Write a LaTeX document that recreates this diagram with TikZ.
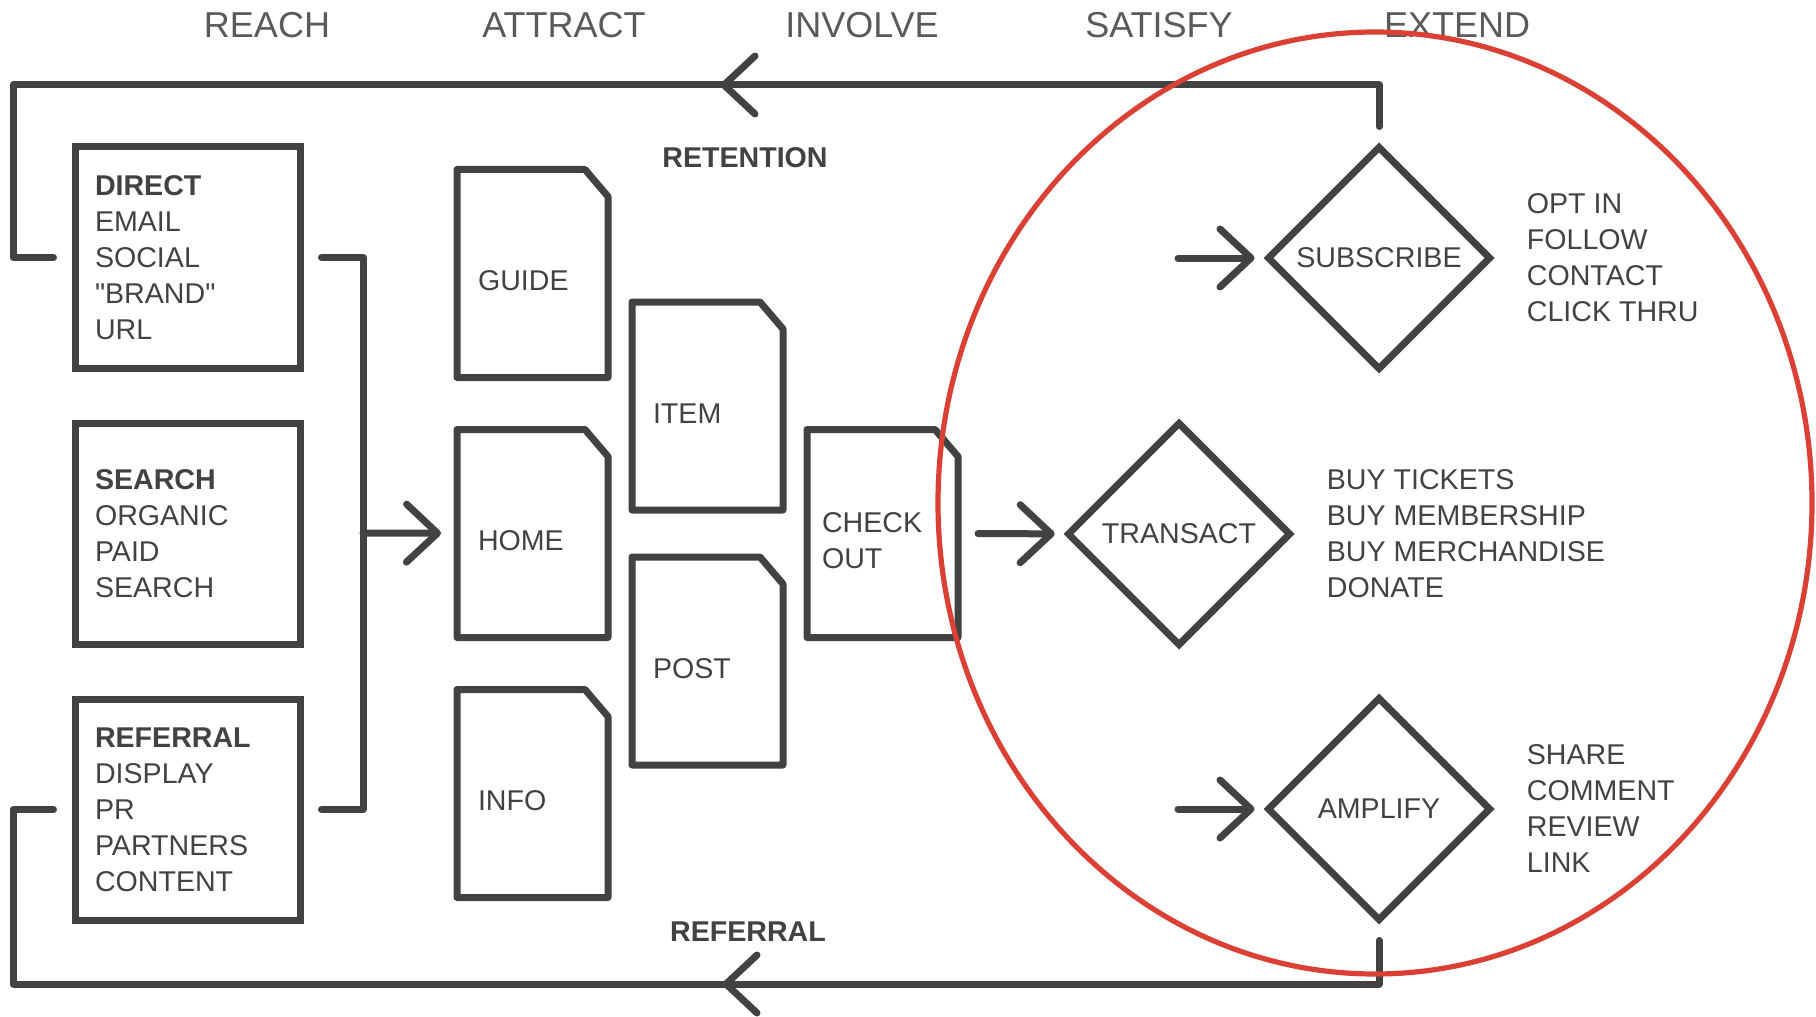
\documentclass[tikz,border=0pt]{standalone}
\usepackage{fontspec}
\setmainfont{Liberation Sans}
\usetikzlibrary{positioning,shapes.geometric,arrows.meta,decorations.markings}
\definecolor{ink}{HTML}{424242}
\definecolor{headgray}{HTML}{5A5A5A}
\definecolor{ringred}{HTML}{DA4034}

\begin{document}
\begin{tikzpicture}[x=0.5pt, y=-0.5pt,
    >={Straight Barb[length=15.5pt,width=29pt,round]},
    every node/.style={text=ink, font=\fontsize{14.3}{18}\selectfont},
    head/.style={text=headgray, font=\fontsize{18}{22}\selectfont},
    lbl/.style={font=\fontsize{14.3}{18}\selectfont\bfseries},
    srcbox/.style={draw=ink, line width=3.5pt, minimum width=112.5pt, minimum height=110.5pt, text width=92.5pt, inner xsep=10pt, align=left},
    page/.style={minimum width=75.5pt, minimum height=104pt, text width=54.5pt, inner xsep=10.5pt, outer sep=0pt, align=left,
        text height=17.4pt},
    goal/.style={diamond, draw=ink, line width=3.5pt, minimum width=112pt, minimum height=112pt, aspect=1, inner sep=0pt},
    actions/.style={align=left, inner sep=0pt},
    wire/.style={draw=ink, line width=3.5pt, line cap=round, line join=round},
    feed/.style={wire, ->, shorten >=4.5pt},
    loopback/.style={wire, shorten <=8pt, shorten >=9pt, postaction={decorate},
        decoration={markings, mark=at position #1 with {\arrow{>}}}}]
    \fill[white] (0,0) rectangle (1816,1016);

    % Stages
    \node[head] (reach) at (267,25) {REACH};
    \node[head] (attract) at (564,25) {ATTRACT};
    \node[head] (involve) at (862,25) {INVOLVE};
    \node[head] (satisfy) at (1159,25) {SATISFY};
    \node[head] (extend) at (1457,25) {EXTEND};

    % Sources
    \node[srcbox] (search) at (187.5,533.5) {\textbf{SEARCH}\\ORGANIC\\PAID\\SEARCH};
    \node[srcbox] (direct) [above=24pt of search] {\textbf{DIRECT}\\EMAIL\\SOCIAL\\\textquotedbl BRAND\textquotedbl\\URL};
    \node[srcbox] (referral) [below=24pt of search] {\textbf{REFERRAL}\\DISPLAY\\PR\\PARTNERS\\CONTENT};

    % Pages
    \node[page] (home) at (532.5,533.5) {HOME};
    \node[page] (guide) [above=26pt of home] {GUIDE};
    \node[page] (info) [below=26pt of home] {INFO};
    \node[page] (item) at (707.5,406) {ITEM};
    \node[page] (post) [below=23.5pt of item] {POST};
    \node[page, text width=60.5pt, inner xsep=7.5pt] (checkout) [right=99.5pt of home] {CHECK\\OUT};
    \foreach \p in {guide,home,info,item,post,checkout}
        \draw[wire] (\p.south west) -- (\p.north west) -- ([xshift=-11.5pt]\p.north east)
            -- ([yshift=-13.5pt]\p.north east) -- (\p.south east) -- cycle;

    % Goals
    \node[goal] (transact) at (1179,534) {TRANSACT};
    \node[goal] (subscribe) at (1379,258) {SUBSCRIBE};
    \node[goal] (amplify) at (1379,809) {AMPLIFY};
    \node[actions] (subacts) [right=16pt of subscribe] {OPT IN\\FOLLOW\\CONTACT\\CLICK THRU};
    \node[actions] (buyacts) [right=16pt of transact] {BUY TICKETS\\BUY MEMBERSHIP\\BUY MERCHANDISE\\DONATE};
    \node[actions] (ampacts) [right=16pt of amplify] {SHARE\\COMMENT\\REVIEW\\LINK};

    \node[lbl] (retention) at (745,158) {RETENTION};
    \node[lbl] (reflabel) at (748,932) {REFERRAL};

    \coordinate (brk) at (363,533);
    \coordinate (rtop) at (13,85);
    \coordinate (rbot) at (13,984);
    \coordinate (insub) at (1178,258);
    \coordinate (inamp) at (1178,809);

    % Edges
    \draw[wire, shorten <=9pt, shorten >=9pt] (direct.east) -| (brk) |- (referral.east);
    \draw[feed, shorten >=8pt] (brk) -- (home);
    \draw[feed, shorten <=10pt] (checkout) -- (transact);
    \draw[feed] (insub) -- (subscribe);
    \draw[feed] (inamp) -- (amplify);
    \draw[loopback=358pt] (subscribe.north) |- (rtop) |- (direct.west);
    \draw[loopback=358pt] (amplify.south) |- (rbot) |- (referral.west);

    % Focus ring
    \draw[ringred, line width=2.6pt] (1375,503) ellipse [x radius=218.5pt, y radius=235.5pt];
\end{tikzpicture}
\end{document}
